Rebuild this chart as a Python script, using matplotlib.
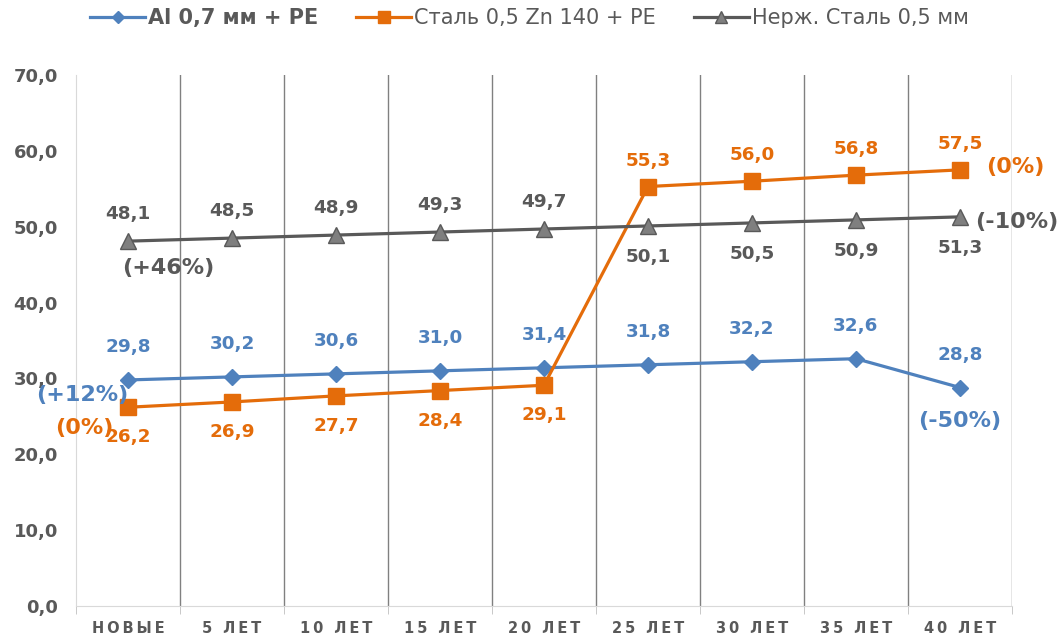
import matplotlib
matplotlib.use("Agg")
import matplotlib.pyplot as plt
import numpy as np

categories = ["НОВЫЕ", "5 ЛЕТ", "10 ЛЕТ", "15 ЛЕТ", "20 ЛЕТ", "25 ЛЕТ", "30 ЛЕТ", "35 ЛЕТ", "40 ЛЕТ"]
al = [29.8, 30.2, 30.6, 31.0, 31.4, 31.8, 32.2, 32.6, 28.8]
zn = [26.2, 26.9, 27.7, 28.4, 29.1, 55.3, 56.0, 56.8, 57.5]
ss = [48.1, 48.5, 48.9, 49.3, 49.7, 50.1, 50.5, 50.9, 51.3]
names = ["Al 0,7 мм + PE", "Сталь 0,5 Zn 140 + PE", "Нерж. Сталь 0,5 мм"]

blue = "#4F81BD"
orange = "#E46C0A"
gray = "#595959"

fig = plt.figure(figsize=(10.59, 6.38), dpi=100)
ax = fig.add_axes([0.0718, 0.0502, 0.8838, 0.8322])
x = np.arange(len(categories))

l1, = ax.plot(x, al, color=blue, lw=2.3, marker="D", ms=8, mfc=blue, mec=blue, label=names[0])
l2, = ax.plot(x, zn, color=orange, lw=2.3, marker="s", ms=11, mfc=orange, mec=orange, label=names[1])
l3, = ax.plot(x, ss, color=gray, lw=2.3, marker="^", ms=11, mfc="#7F7F7F", mec="#595959", label=names[2])

ax.set_xlim(-0.5, len(categories) - 0.5)
ax.set_ylim(0, 70)
ax.set_yticks(np.arange(0, 71, 10))
ax.set_yticklabels([f"{v:.1f}".replace(".", ",") for v in np.arange(0, 71, 10)],
                   fontsize=13, fontweight="bold", color=gray)
ax.tick_params(axis="y", length=0, pad=13)

# letter-spaced category labels
ax.set_xticks(x)
ax.set_xticklabels(["\u2009".join(c) for c in categories], fontsize=10.5, fontweight="bold", color=gray)
ax.tick_params(axis="x", length=0, pad=11)
ax.set_xticks(np.arange(-0.5, len(categories)), minor=True)
ax.tick_params(axis="x", which="minor", length=6, color="#BFBFBF", direction="out")
for b in np.arange(0.5, len(categories)):
    ax.axvline(b, color="#808080", lw=1, zorder=0)

for s in ["top", "right"]:
    ax.spines[s].set_visible(False)
ax.spines["left"].set_color("#D9D9D9")
ax.spines["bottom"].set_color("#D9D9D9")

lab = dict(fontsize=13.2, fontweight="bold", ha="center", va="center", textcoords="offset pixels")

def fmt(v):
    return f"{v:.1f}".replace(".", ",")

for i, v in enumerate(al):
    ax.annotate(fmt(v), (i, v), xytext=(0, 33), color=blue, **lab)
for i, v in enumerate(zn):
    dy = -30 if i < 5 else 26
    ax.annotate(fmt(v), (i, v), xytext=(0, dy), color=orange, **lab)
for i, v in enumerate(ss):
    dy = 27 if i < 5 else -31
    ax.annotate(fmt(v), (i, v), xytext=(0, dy), color=gray, **lab)

pct = dict(fontsize=16, fontweight="bold", ha="center", va="center", textcoords="offset pixels")
ax.annotate("(+12%)", (0, al[0]), xytext=(-46, -15), color=blue, **pct)
ax.annotate("(0%)", (0, zn[0]), xytext=(-44, -21), color=orange, **pct)
ax.annotate("(+46%)", (0, ss[0]), xytext=(40, -27), color=gray, **pct)
ax.annotate("(-50%)", (8, al[8]), xytext=(0, -33), color=blue, **pct)
ax.annotate("(0%)", (8, zn[8]), xytext=(55, 3), color=orange, **pct)
ax.annotate("(-10%)", (8, ss[8]), xytext=(57, -5), color=gray, **pct)

leg = fig.legend(handles=[l1, l2, l3], loc="center", bbox_to_anchor=(0.5, 0.972), ncol=3,
                 frameon=False, fontsize=15, handlelength=2.65, columnspacing=1.8,
                 handletextpad=0.15, markerscale=0.75)
for t in leg.get_texts():
    t.set_color(gray)
leg.get_texts()[0].set_fontweight("bold")

fig.savefig("out.png", dpi=100)
